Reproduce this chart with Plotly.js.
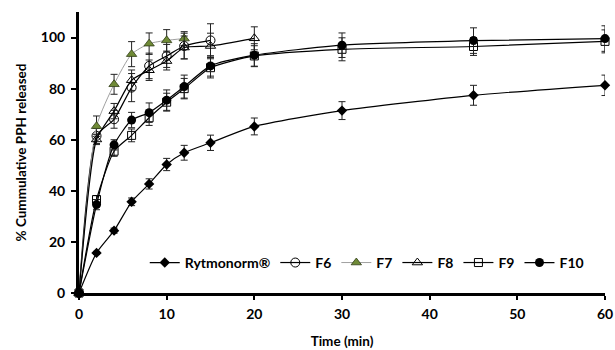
<!DOCTYPE html>
<html>
<head>
<meta charset="utf-8">
<script src="https://cdn.plot.ly/plotly-3.0.1.min.js"></script>
<style>html,body{margin:0;padding:0;background:#fff;}</style>
</head>
<body>
<div id="chart" style="width:615px;height:350px;"></div>
<script>
// Time points (min)
const timeFull = [0, 2, 4, 6, 8, 10, 12, 15, 20, 30, 45, 60];
const timeF6 = [0, 2, 4, 6, 8, 10, 12, 15];
const timeF7 = [0, 2, 4, 6, 8, 10, 12];
const timeF8 = [0, 2, 4, 6, 8, 10, 12, 15, 20];

// % cumulative PPH released
const rytmonorm = [0, 15.7, 24.4, 35.7, 42.7, 50.3, 54.9, 58.8, 65.2, 71.4, 77.4, 81.3];
const rytmonormErr = [0, 0.6, 1.0, 1.5, 2.0, 2.4, 2.9, 3.0, 3.3, 3.5, 3.9, 4.0];

const f6 = [0, 61.5, 68.0, 80.4, 88.9, 92.8, 96.7, 98.9];
const f6Err = [0, 3.0, 3.5, 5.5, 5.0, 4.5, 5.0, 6.5];

const f7 = [0, 65.3, 81.7, 93.5, 97.6, 98.9, 99.6];
const f7Err = [0, 4.0, 3.9, 4.9, 4.2, 4.2, 2.7];

const f8 = [0, 60.1, 71.2, 83.3, 87.2, 90.8, 96.1, 96.7, 99.7];
const f8Err = [0, 2.0, 3.0, 4.0, 4.0, 3.5, 4.5, 5.0, 4.5];

const f9 = [0, 36.6, 55.5, 61.7, 68.6, 74.7, 80.0, 88.2, 92.8, 95.4, 96.5, 98.5];
const f9Err = [0, 1.5, 2.0, 2.5, 3.0, 3.5, 4.0, 4.0, 4.0, 4.5, 3.5, 4.5];

const f10 = [0, 34.6, 58.0, 67.7, 70.6, 75.5, 80.8, 88.9, 93.1, 97.0, 98.8, 99.6];
const f10Err = [0, 2.0, 2.0, 3.0, 3.8, 4.0, 4.5, 4.0, 4.5, 4.8, 5.0, 5.0];

const xTicks = [0, 10, 20, 30, 40, 50, 60];
const yTicks = [0, 20, 40, 60, 80, 100];

const FONT = 'Lato, "Liberation Sans", sans-serif';

function eb(arr) {
  return {type: 'data', array: arr, visible: true, color: '#222', thickness: 1, width: 3.5};
}

const traces = [
  {name: 'Rytmonorm®', x: timeFull, y: rytmonorm, error_y: eb(rytmonormErr),
   mode: 'lines+markers', line: {color: '#000', width: 1.2, shape: 'spline', smoothing: 0.6},
   marker: {symbol: 'diamond', size: 8, color: '#000'}, cliponaxis: false},
  {name: 'F6', x: timeF6, y: f6, error_y: eb(f6Err),
   mode: 'lines+markers', line: {color: '#000', width: 1.2, shape: 'spline', smoothing: 0.6},
   marker: {symbol: 'circle-open', size: 9, color: '#000', line: {width: 1}}, cliponaxis: false},
  {name: 'F7', x: timeF7, y: f7, error_y: eb(f7Err),
   mode: 'lines+markers', line: {color: '#a0a0a0', width: 1, shape: 'spline', smoothing: 0.6},
   marker: {symbol: 'triangle-up', size: 9, color: '#6f8a36', line: {color: '#2f3b14', width: 0.8}}, cliponaxis: false},
  {name: 'F8', x: timeF8, y: f8, error_y: eb(f8Err),
   mode: 'lines+markers', line: {color: '#000', width: 1.2, shape: 'spline', smoothing: 0.6},
   marker: {symbol: 'triangle-up-open', size: 9, color: '#000', line: {width: 1}}, cliponaxis: false},
  {name: 'F9', x: timeFull, y: f9, error_y: eb(f9Err),
   mode: 'lines+markers', line: {color: '#000', width: 1.2, shape: 'spline', smoothing: 0.6},
   marker: {symbol: 'square-open', size: 8, color: '#000', line: {width: 1}}, cliponaxis: false},
  {name: 'F10', x: timeFull, y: f10, error_y: eb(f10Err),
   mode: 'lines+markers', line: {color: '#000', width: 1.2, shape: 'spline', smoothing: 0.6},
   marker: {symbol: 'circle', size: 9, color: '#000'}, cliponaxis: false}
];

const layout = {
  width: 615, height: 350,
  margin: {l: 79, r: 10, t: 12, b: 57},
  paper_bgcolor: '#fff', plot_bgcolor: '#fff',
  font: {family: FONT, size: 12, color: '#000', weight: 'bold'},
  showlegend: true,
  legend: {orientation: 'h', x: 0.125, y: 0.107, xanchor: 'left', yanchor: 'middle',
           bgcolor: 'rgba(0,0,0,0)', font: {family: FONT, size: 14, color: '#000', weight: 'bold'},
           itemwidth: 30, tracegroupgap: 0},
  xaxis: {range: [0, 60], tickvals: xTicks, showgrid: false, zeroline: false,
          showline: true, linecolor: '#000', linewidth: 3,
          ticks: 'outside', ticklen: 4, tickwidth: 2, tickcolor: '#000',
          ticklabelstandoff: 2,
          tickfont: {family: FONT, size: 14, weight: 'bold'},
          title: {text: 'Time (min)', font: {family: FONT, size: 13.5, weight: 'bold'}, standoff: 16}},
  yaxis: {range: [0, 110], tickvals: yTicks, showgrid: false, zeroline: false,
          showline: true, linecolor: '#000', linewidth: 3,
          ticks: 'outside', ticklen: 5, tickwidth: 2, tickcolor: '#000',
          ticklabelstandoff: 3,
          tickfont: {family: FONT, size: 14, weight: 'bold'},
          title: {text: '% Cummulative PPH released', font: {family: FONT, size: 13.5, weight: 'bold'}, standoff: 12}}
};

Plotly.newPlot('chart', traces, layout, {displayModeBar: false, staticPlot: true});
</script>
</body>
</html>
